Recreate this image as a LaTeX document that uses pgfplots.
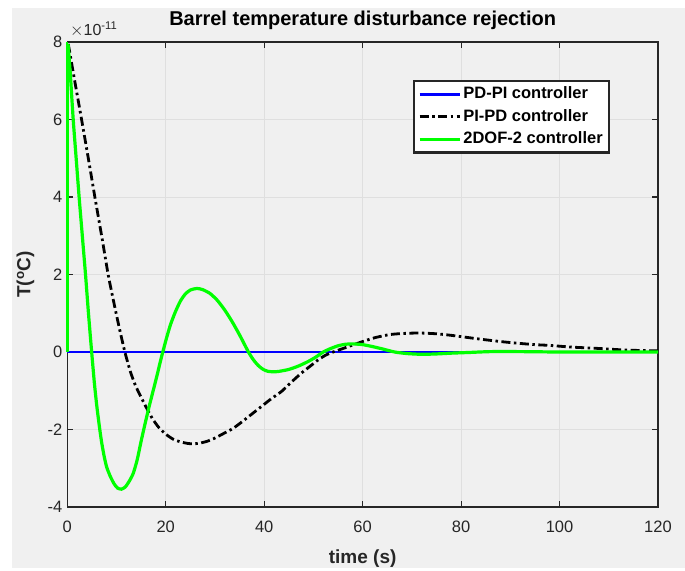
\documentclass[border=0pt]{standalone}
\usepackage{fontspec}
\setmainfont{Liberation Sans}
\usepackage{pgfplots}
\pgfplotsset{compat=1.18}
\definecolor{bg}{RGB}{240,240,240}
\definecolor{ax}{RGB}{38,38,38}
\definecolor{gridc}{RGB}{223,223,223}
\definecolor{mgreen}{RGB}{0,255,0}
\definecolor{mblue}{RGB}{0,0,255}
\begin{document}
\begin{tikzpicture}[x=1pt,y=1pt]
\fill[white] (0,0) rectangle (685,568);
\fill[bg] (12,0) rectangle (685,560);
\begin{axis}[
  at={(67.3pt,61pt)}, anchor=south west,
  scale only axis, width=590.7pt, height=465pt,
  xmin=0, xmax=120, ymin=-4, ymax=8,
  xtick={0,20,...,120}, ytick={-4,-2,...,8},
  grid=major, major grid style={gridc, line width=0.8pt},
  axis line style={ax, line width=1.2pt},
  tick style={ax, line width=1.2pt},
  tick align=inside, major tick length=6pt,
  clip=false,
  /pgf/number format/assume math mode=true,
  ticklabel style={font=\fontsize{16.5}{18}\selectfont, text=ax},
  xticklabel style={yshift=-10pt},
  yticklabel style={xshift=-1.5pt},
  title={Barrel temperature disturbance rejection},
  title style={font=\bfseries\fontsize{20}{22}\selectfont, anchor=base, at={(0.5,1)}, yshift=10.3pt},
  xlabel={time (s)},
  xlabel style={font=\bfseries\fontsize{19}{21}\selectfont, text=ax, anchor=base, at={(0.5,0)}, yshift=-56pt},
  ylabel={T(\textsuperscript{o}C)},
  ylabel style={font=\bfseries\fontsize{19}{21}\selectfont, text=ax, anchor=base, at={(0,0.5)}, yshift=37pt},
  legend image code/.code={\draw[#1] (0pt,0pt) -- (40pt,0pt);},
  legend style={at={(0.5853,0.9183)}, anchor=north west, draw=ax, line width=2.2pt, fill=white,
    font=\bfseries\fontsize{16.5}{18}\selectfont, inner xsep=4pt, inner ysep=2pt,
    nodes={text height=11.5pt, text depth=3pt, inner ysep=4pt}},
  legend cell align=left,
]
\addplot[mblue, line width=2.9pt] coordinates {(0,0) (120,0)};
\addlegendentry{PD-PI controller}
\addplot[black, line width=2.8pt, smooth, tension=0.4, dash pattern=on 9pt off 3.5pt on 2.5pt off 3.5pt] coordinates {
(0.2,7.95) (1.5,7.0) (2.9,6.0) (4.2,5.05) (5.6,4.0) (7.0,2.98) (8.3,2.0) (9.5,1.25) (10.6,0.6) (11.7,0)
(12.8,-0.5) (13.8,-0.85) (14.8,-1.12) (16.0,-1.42) (17.3,-1.72) (18.6,-1.95) (20.0,-2.12) (21.5,-2.25)
(23.0,-2.32) (24.5,-2.36) (25.6,-2.37) (27.0,-2.35) (28.5,-2.3) (30.0,-2.22) (31.8,-2.1) (33.7,-1.97)
(35.5,-1.8) (37.5,-1.6) (39.5,-1.4) (41.5,-1.2) (43.5,-1.02) (45.5,-0.78) (47.5,-0.55) (49.5,-0.35)
(51.0,-0.2) (52.5,-0.08) (54.0,0) (56.0,0.09) (58.0,0.18) (60.0,0.27) (62.5,0.37) (65.5,0.45)
(68.5,0.48) (71.6,0.49) (75.0,0.47) (78.0,0.43) (80.4,0.39) (84.0,0.33) (88.0,0.27) (91.2,0.23)
(95.0,0.19) (98.0,0.17) (102.0,0.13) (105.0,0.11) (108.2,0.09) (112.0,0.06) (116.0,0.04) (120.0,0.03)};
\addlegendentry{PI-PD controller}
\addplot[mgreen, line width=3.2pt, forget plot] coordinates {(0,0) (0,7.95) (0.15,7.95)};
\addplot[mgreen, line width=3.2pt, smooth, tension=0.4] coordinates {
(0.15,7.95) (0.6,7.2) (1.2,6.0) (1.8,5.0) (2.4,4.0) (3.05,3.0) (3.7,2.0) (4.3,1.0) (4.95,0)
(5.5,-0.8) (6.0,-1.4) (6.6,-2.0) (7.0,-2.35) (7.5,-2.7) (8.0,-2.97) (8.7,-3.2) (9.5,-3.4) (10.2,-3.51)
(11.0,-3.54) (11.8,-3.48) (12.6,-3.33) (13.4,-3.13) (14.2,-2.78) (15.0,-2.3) (15.8,-1.85) (16.6,-1.42)
(17.4,-1.02) (18.2,-0.62) (18.8,-0.3) (19.4,0) (20.2,0.38) (21.0,0.72) (22.0,1.05) (23.0,1.32) (24.0,1.5)
(25.0,1.6) (26.3,1.64) (27.5,1.61) (29.0,1.51) (30.5,1.33) (32.0,1.08) (33.5,0.78) (35.0,0.44) (36.8,0)
(37.8,-0.2) (38.8,-0.35) (39.8,-0.45) (40.8,-0.5) (42.0,-0.51) (43.0,-0.5) (45.0,-0.45) (47.0,-0.36)
(49.0,-0.24) (50.5,-0.13) (52.0,0) (53.5,0.09) (55.0,0.16) (56.5,0.2) (58.0,0.21) (60.0,0.19) (62.0,0.14)
(64.0,0.08) (66.5,0) (69.0,-0.04) (72.0,-0.06) (75.0,-0.05) (78.0,-0.03) (82.0,-0.01) (86.0,0.01)
(92.0,0.01) (100.0,0) (110.0,0) (120.0,0)};
\addlegendentry{2DOF-2 controller}
\end{axis}
\node[anchor=base west, font=\fontsize{16}{18}\selectfont, text=ax, inner sep=0pt] at (70,532) {$\times$10\textsuperscript{-11}};
\end{tikzpicture}
\end{document}
